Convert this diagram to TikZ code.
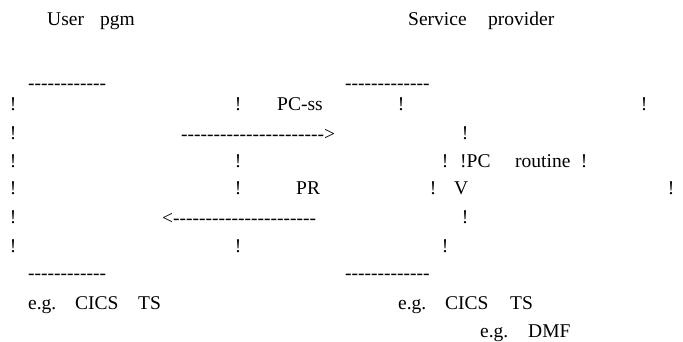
\documentclass[tikz,border=0pt]{standalone}
\usepackage{fontspec}
\setmainfont{Liberation Serif}[Ligatures=TeXOff]
\begin{document}
\begin{tikzpicture}[x=1pt, y=-1pt, font=\fontsize{19.5}{20}\selectfont,
 every node/.style={anchor=base west, inner sep=0pt},
 bang/.style={anchor=base}]
 \useasboundingbox (0,0) rectangle (683,341);
 % headings
 \node (user) at (47,25){User}; \node (pgm) at (100,25){pgm};
 \node (serv) at (408,25){Service}; \node (prov) at (488,25){provider};
 \node (utop) at (28,89){------------};
 \node (stop) at (345,89){-------------};
 % walls of the user box
 \foreach\y[count=\i] in{110.5,139.5,167.5,194.5,223.5,252.5}{\node[bang] (uw\i) at (13,\y){!};}
 \foreach\y[count=\i] in{110.5,167.5,194.5,252.5}{\node[bang] (ue\i) at (238,\y){!};}
 % calls between the two
 \node (pcss) at (277,110.5){PC-ss};
 \node (call) at (181,140){---------------------->};
 \node (pr) at (296,194.5){PR};
 \node (ret) at (162,224){<----------------------};
 % service provider side
 \node[bang] (sa1) at (401,110.5){!}; \node[bang] (sa2) at (644,110.5){!};
 \node[bang] (sb) at (465,139.5){!};
 \node[bang] (sc1) at (445,167.5){!}; \node (pc) at (460,167.5){!PC};
 \node (rtn) at (515,167.5){routine}; \node[bang] (sc2) at (584,167.5){!};
 \node[bang] (sd1) at (433,194.5){!}; \node (v) at (454,194.5){V};
 \node[bang] (sd2) at (671,194.5){!};
 \node[bang] (se) at (465,223.5){!};
 \node[bang] (sf) at (445,252.5){!};
 % bottom
 \node (ubot) at (28,279){------------};
 \node (sbot) at (345,279){-------------};
 \node (eg1) at (28,309.5){e.g.}; \node (cics1) at (75,309.5){CICS}; \node (ts1) at (138,309.5){TS};
 \node (eg2) at (398,309.5){e.g.}; \node (cics2) at (445,309.5){CICS}; \node (ts2) at (510,309.5){TS};
 \node (eg3) at (480,337.5){e.g.}; \node (dmf) at (528,337.5){DMF};
\end{tikzpicture}
\end{document}
